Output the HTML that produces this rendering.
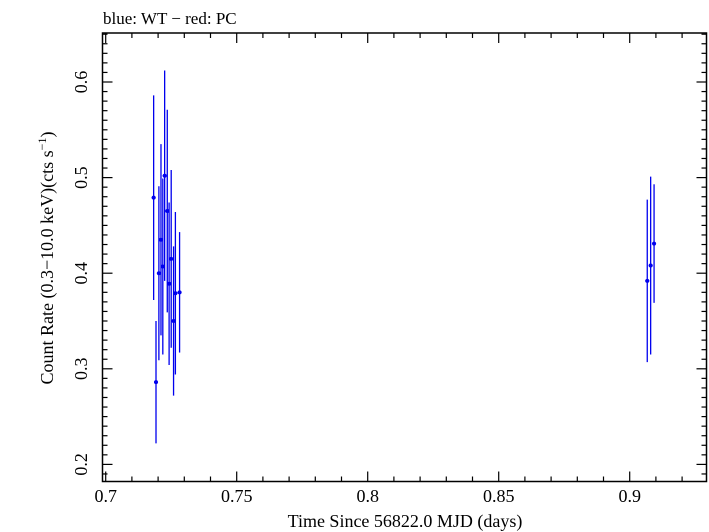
<!DOCTYPE html>
<html><head><meta charset="utf-8"><style>
html,body{margin:0;padding:0;background:#fff;}
svg{display:block;font-family:"Liberation Serif",serif;}
</style></head><body>
<svg id="chart" width="709" height="532" viewBox="0 0 709 532" xmlns="http://www.w3.org/2000/svg">
<text x="103" y="24" font-size="17">blue: WT − red: PC</text>
<rect x="102.5" y="33" width="604" height="448.5" fill="none" stroke="#000" stroke-width="1.5"/>
<g id="axes"></g>
<g id="marks"></g>
<text x="405" y="527" font-size="18" text-anchor="middle">Time Since 56822.0 MJD (days)</text>
<text transform="translate(53,258) rotate(-90)" font-size="18" text-anchor="middle">Count Rate (0.3−10.0 keV)(cts s<tspan font-size="12" dy="-7">−1</tspan><tspan dy="7">)</tspan></text>
</svg>
<script>
const times=[0.7183,0.7192,0.7203,0.7211,0.7218,0.7225,0.7235,0.7242,0.7250,0.7259,0.7266,0.7282,0.9067,0.9080,0.9093];
const rates=[0.479,0.286,0.400,0.435,0.407,0.502,0.465,0.389,0.415,0.350,0.379,0.380,0.392,0.408,0.431];
const errors=[0.107,0.064,0.091,0.100,0.092,0.110,0.106,0.085,0.093,0.078,0.085,0.063,0.085,0.093,0.062];
const xTicks=[0.7,0.75,0.8,0.85,0.9];
const xTickLabels=["0.7","0.75","0.8","0.85","0.9"];
const yTicks=[0.2,0.3,0.4,0.5,0.6];
const yTickLabels=["0.2","0.3","0.4","0.5","0.6"];
const L=102.5,R=706.5,T=33,B=481.5;
function sx(v){return 105.7+(v-0.7)*2620;}
function sy(v){return 82-(v-0.6)*956;}
const NS="http://www.w3.org/2000/svg";
const axes=document.getElementById('axes'),marks=document.getElementById('marks');
function mk(tag,attrs,parent){const e=document.createElementNS(NS,tag);for(const k in attrs)e.setAttribute(k,attrs[k]);parent.appendChild(e);return e;}
// minor x ticks
for(let i=0;i<=23;i++){const v=0.7+i*0.01;const x=sx(v);if(x>R)break;const major=i%5===0;const len=major?10:5;
const t1=mk('line',{x1:x,x2:x,y1:B,y2:B-len,stroke:'#000','stroke-width':1.2},axes);


const t2=mk('line',{x1:x,x2:x,y1:T,y2:T+len,stroke:'#000','stroke-width':1.2},axes);

}
xTicks.forEach((v,i)=>{const t=mk('text',{x:sx(v),y:502,'font-size':18,'text-anchor':'middle'},axes);t.textContent=xTickLabels[i];

});
for(let i=0;i<=48;i++){const v=0.18+i*0.01;const y=sy(v);if(y>B||y<T)continue;const major=Math.abs(v*10-Math.round(v*10))<1e-6;const len=major?10:5;
const t1=mk('line',{x1:L,x2:L+len,y1:y,y2:y,stroke:'#000','stroke-width':1.2},axes);


const t2=mk('line',{x1:R,x2:R-len,y1:y,y2:y,stroke:'#000','stroke-width':1.2},axes);

}
yTicks.forEach((v,i)=>{const t=mk('text',{'font-size':18,'text-anchor':'middle',transform:`translate(87,${sy(v)}) rotate(-90)`},axes);t.textContent=yTickLabels[i];

});
times.forEach((t,i)=>{const x=sx(t),y=sy(rates[i]);
const g=mk('g',{},marks);


mk('line',{x1:x,x2:x,y1:sy(rates[i]+errors[i]),y2:sy(rates[i]-errors[i]),stroke:'#0000ee','stroke-width':1.3},g);
mk('line',{x1:x-2,x2:x+2,y1:y,y2:y,stroke:'#0000ee','stroke-width':1.3},g);
mk('circle',{cx:x,cy:y,r:2,fill:'#0000ee'},g);});
</script>
</body></html>
